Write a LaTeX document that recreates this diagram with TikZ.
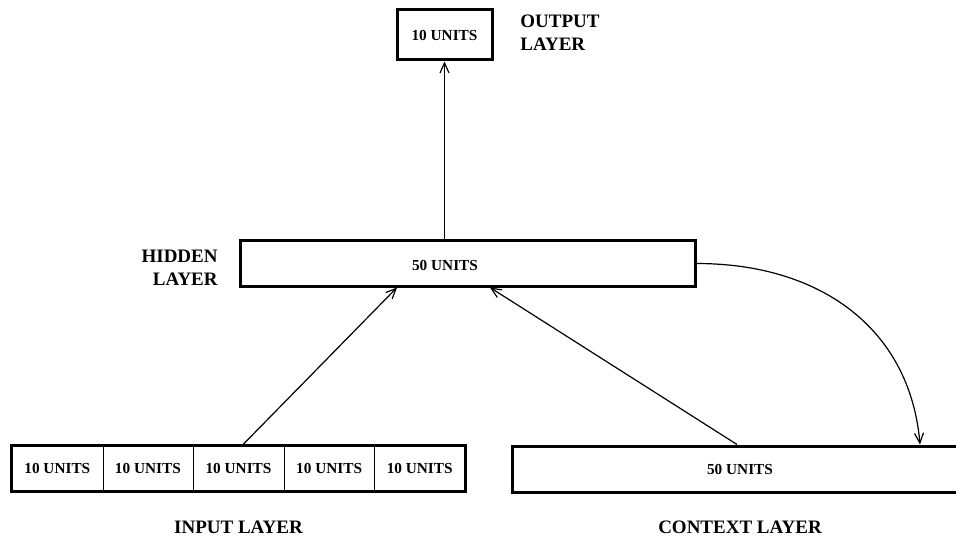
\documentclass[tikz,border=0pt]{standalone}
\usepackage{fontspec}
\setmainfont{Liberation Serif}
\usetikzlibrary{arrows.meta,calc}
\begin{document}
\begin{tikzpicture}[x=0.5pt,y=-0.5pt,
  boxtext/.style={font=\fontsize{7.65}{9}\selectfont\bfseries},
  box/.style={draw,line width=1.5pt,inner sep=0pt,boxtext},
  cell/.style={inner sep=0pt,minimum width=45.3pt,minimum height=22.5pt,boxtext},
  lab/.style={font=\fontsize{9.5}{11.5}\selectfont\bfseries,inner sep=0pt},
  arr/.style={line width=0.6pt,-{Straight Barb[length=5pt,width=4.5pt]}}]
\useasboundingbox (0,0) rectangle (956,539);
\clip (0,0) rectangle (956,539);
% output layer
\node[box,minimum width=47.5pt,minimum height=25pt] (out) at (444.5,35) {10 UNITS};
\node[lab,anchor=west,align=left] (outlab) at (520,33) {OUTPUT\\LAYER};
% hidden layer
\node[box,minimum width=227.5pt,minimum height=22.5pt] (hid) at (467.5,263.5) {};
\node[boxtext,inner sep=0pt] (hidtxt) at (445,265) {50 UNITS};
\node[lab,anchor=east,align=right] (hidlab) at (218,268) {HIDDEN\\LAYER};
% input layer
\node[cell] (in1) at (57.3,468.5) {10 UNITS};
\node[cell] (in2) at (147.9,468.5) {10 UNITS};
\node[cell] (in3) at (238.5,468.5) {10 UNITS};
\node[cell] (in4) at (329.1,468.5) {10 UNITS};
\node[cell] (in5) at (419.7,468.5) {10 UNITS};
\foreach \a/\b in {in1/in2,in2/in3,in3/in4,in4/in5}
  \draw[line width=0.5pt] (\a.north east) -- (\a.south east);
\draw[line width=1.5pt] (in1.north west) rectangle (in5.south east);
\node[lab] (inlab) at (238.5,527) {INPUT LAYER};
% context layer
\node[box,minimum width=228pt,minimum height=23pt] (ctx) at (740,469) {50 UNITS};
\node[lab] (ctxlab) at (740,527) {CONTEXT LAYER};
% connectors
\draw[arr] (hid.north -| out.south) -- (out.south);
\draw[arr] ($(in3.north)+(3.5,0)$) -- ($(hid.south)+(-70.5,0)$);
\draw[arr] ($(ctx.north)+(-3,0)$) -- ($(hid.south)+(22.5,0)$);
\draw[arr] (hid.east) .. controls +(125,0) and +(-10,-115) .. ($(ctx.north)+(180,0)$);
\end{tikzpicture}
\end{document}
